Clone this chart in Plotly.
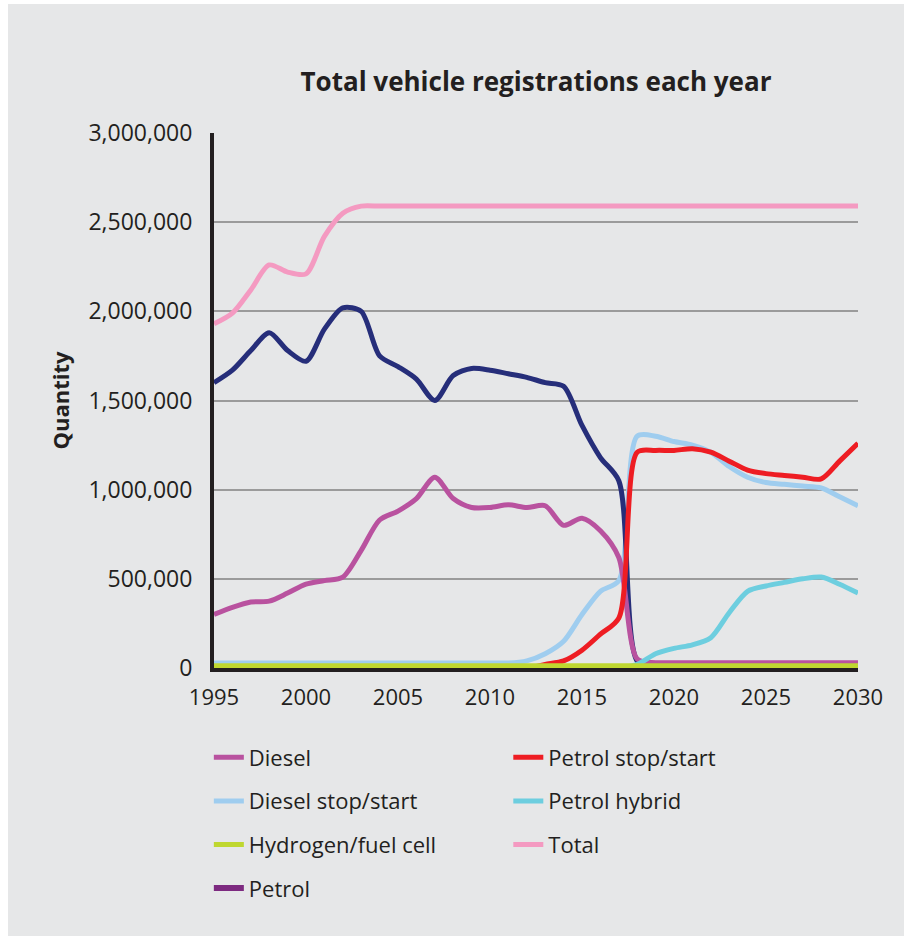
import plotly.graph_objects as go

# Annual registrations by vehicle type, in millions of vehicles
years = list(range(1995, 2031))

diesel = [0.30, 0.34, 0.37, 0.375, 0.42, 0.47, 0.49, 0.51, 0.66, 0.83,
          0.88, 0.95, 1.07, 0.95, 0.90, 0.90, 0.915, 0.90, 0.91, 0.80,
          0.84, 0.77, 0.62, 0.05, 0.03, 0.03, 0.03, 0.03, 0.03, 0.03,
          0.03, 0.03, 0.03, 0.03, 0.03, 0.03]

diesel_ss = [0.028, 0.028, 0.028, 0.028, 0.028, 0.028, 0.028, 0.028, 0.028,
             0.028, 0.028, 0.028, 0.028, 0.028, 0.028, 0.028, 0.028, 0.04,
             0.08, 0.15, 0.30, 0.43, 0.49, 1.30, 1.30, 1.27, 1.25, 1.21,
             1.13, 1.07, 1.04, 1.03, 1.02, 1.01, 0.96, 0.91]

hydrogen = [0.012] * 36

petrol = [1.60, 1.67, 1.78, 1.88, 1.78, 1.72, 1.90, 2.02, 2.00, 1.75,
          1.69, 1.62, 1.50, 1.64, 1.68, 1.67, 1.65, 1.63, 1.60, 1.58,
          1.36, 1.18, 1.05, 0.04, 0.0, 0.0, 0.0, 0.0, 0.0, 0.0,
          0.0, 0.0, 0.0, 0.0, 0.0, 0.0]

petrol_ss = [0.0, 0.0, 0.0, 0.0, 0.0, 0.0, 0.0, 0.0, 0.0, 0.0,
             0.0, 0.0, 0.0, 0.0, 0.0, 0.0, 0.0, 0.0, 0.02, 0.04,
             0.10, 0.19, 0.28, 1.21, 1.22, 1.22, 1.23, 1.21, 1.16, 1.11,
             1.09, 1.08, 1.07, 1.06, 1.16, 1.26]

petrol_hybrid = [0.0, 0.0, 0.0, 0.0, 0.0, 0.0, 0.0, 0.0, 0.0, 0.0,
                 0.0, 0.0, 0.0, 0.0, 0.0, 0.0, 0.0, 0.0, 0.0, 0.0,
                 0.0, 0.0, 0.0, 0.02, 0.08, 0.11, 0.13, 0.17, 0.31, 0.43,
                 0.46, 0.48, 0.50, 0.51, 0.47, 0.42]

total = [1.93, 1.99, 2.12, 2.26, 2.22, 2.21, 2.42, 2.55, 2.59, 2.59,
         2.59, 2.59, 2.59, 2.59, 2.59, 2.59, 2.59, 2.59, 2.59, 2.59,
         2.59, 2.59, 2.59, 2.59, 2.59, 2.59, 2.59, 2.59, 2.59, 2.59,
         2.59, 2.59, 2.59, 2.59, 2.59, 2.59]

y_ticks = [0, 500000, 1000000, 1500000, 2000000, 2500000, 3000000]
y_tick_text = ["0", "500,000", "1,000,000", "1,500,000", "2,000,000",
               "2,500,000", "3,000,000"]
x_ticks = [1995, 2000, 2005, 2010, 2015, 2020, 2025, 2030]

BG = "#e6e7e8"
INK = "#231f20"
FONT = "Open Sans"

fig = go.Figure()


def add_line(values, name, color, legend, rank, show=True):
    fig.add_trace(go.Scatter(
        x=years, y=[v * 1e6 for v in values], name=name, mode="lines",
        line=dict(color=color, width=5, shape="spline", smoothing=0.8),
        legend=legend, legendgroup=name, legendrank=rank, showlegend=show,
        hoverinfo="x+y+name"))


# Drawing order: later series sit on top
add_line(diesel_ss, "Diesel stop/start", "#9fcdef", "legend", 2)
add_line(petrol, "Petrol", "#262e7a", "legend", 4, show=False)
add_line(diesel, "Diesel", "#b9529f", "legend", 1)
add_line(petrol_hybrid, "Petrol hybrid", "#6dcedf", "legend2", 2)
add_line(petrol_ss, "Petrol stop/start", "#ee1d23", "legend2", 1)
add_line(hydrogen, "Hydrogen/fuel cell", "#bfd730", "legend", 3)
add_line(total, "Total", "#f49ac1", "legend2", 3)

# Legend swatch for petrol
fig.add_trace(go.Scatter(
    x=[None], y=[None], name="Petrol", mode="lines",
    line=dict(color="#7d2a80", width=6), legend="legend",
    legendgroup="Petrol_key", legendrank=4, hoverinfo="skip"))

legend_style = dict(
    orientation="v", bgcolor="rgba(0,0,0,0)", borderwidth=0,
    font=dict(family=FONT, size=22, color=INK),
    tracegroupgap=12, itemwidth=30, yanchor="top", xanchor="left",
    traceorder="grouped",
)

fig.update_layout(
    width=904, height=936,
    paper_bgcolor=BG, plot_bgcolor=BG,
    margin=dict(l=214, r=46, t=133, b=268),
    font=dict(family=FONT, size=22, color=INK),
    title=dict(text="<b>Total vehicle registrations each year</b>",
               x=(214 + 858) / 2 / 904, xanchor="center",
               y=1 - 82 / 936, yanchor="middle",
               font=dict(family=FONT, size=26, color=INK)),
    legend=dict(**legend_style, x=-0.008, y=-0.128),
    legend2=dict(**legend_style, x=0.457, y=-0.128),
    showlegend=True,
)

fig.update_xaxes(
    range=[1995, 2030], tickvals=x_ticks, ticks="", showgrid=False,
    zeroline=False, showline=True, linecolor="#231f20", linewidth=4,
    tickfont=dict(family=FONT, size=22, color=INK), ticklabelstandoff=7,
)
fig.update_yaxes(
    range=[0, 3000000], tickvals=y_ticks, ticktext=y_tick_text,
    ticks="", showgrid=True, gridcolor="#9b9b9b", gridwidth=1.5,
    zeroline=False, showline=True, linecolor="#231f20", linewidth=4,
    tickfont=dict(family=FONT, size=23, color=INK), ticklabelstandoff=13,
    title=dict(text="<b>Quantity</b>", font=dict(family=FONT, size=22,
                                                  color=INK), standoff=14),
)

# White strips along the top and left edges of the page
fig.add_shape(type="rect", xref="paper", yref="paper",
              x0=-214 / 644, x1=-206 / 644, y0=-268 / 535, y1=1 + 133 / 535,
              fillcolor="white", line_width=0, layer="below")
fig.add_shape(type="rect", xref="paper", yref="paper",
              x0=-214 / 644, x1=1 + 46 / 644, y0=1 + 129 / 535,
              y1=1 + 133 / 535, fillcolor="white", line_width=0,
              layer="below")

fig.write_html("out.html")
